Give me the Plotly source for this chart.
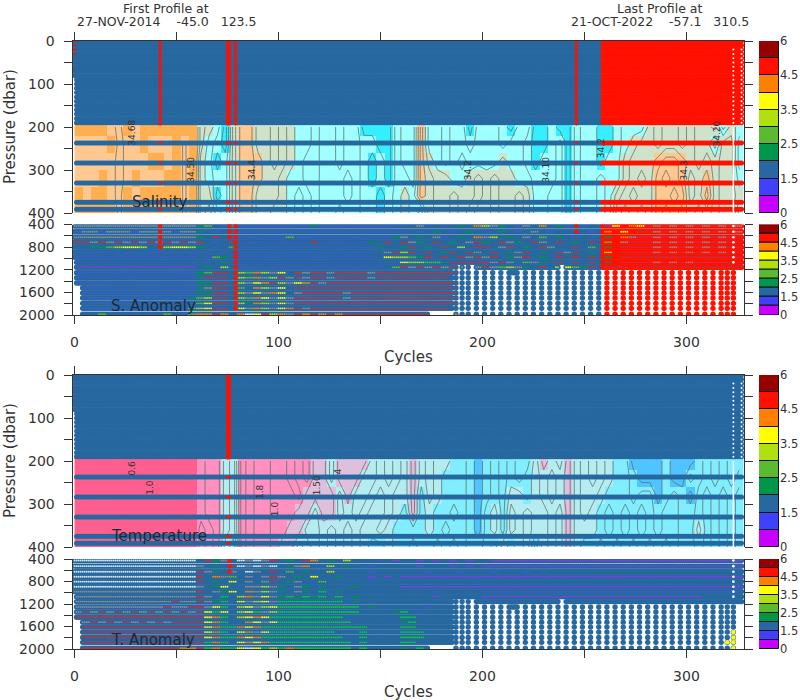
import plotly.graph_objects as go
from bisect import bisect_right

# ---------- data ----------
COLORBAR_LABELS = ["0", "1.5", "2.5", "3.5", "4.5", "6"]
UPPER_LEVELS = [0, 10, 20, 30, 40, 50, 60, 70, 80, 90, 100, 110, 120, 130, 140, 150, 160, 170, 180, 190]
RED_LEVELS = [0, 5, 10, 15, 20, 25, 30, 35, 40, 45, 50, 55, 60, 65, 70, 75, 80, 85, 90, 95, 100, 105, 110, 115, 120,
              125, 130, 135, 140, 145, 150, 155, 160, 165, 170, 175, 180, 185, 190, 193]
BAND_LEVELS = [237, 284, 330, 375, 391]
DEEP_LEVELS = [426, 527, 626, 715, 803, 892, 980, 1069, 1157, 1253, 1341, 1435, 1523, 1611, 1700, 1794, 1882, 1988]
GRID_PRESSURE = [200, 240, 280, 320, 360, 400]
LAST_CYCLE = 327
FLAG_CHANGE_CYCLE = 259

SAL_RED_CYCLES = [42, 75, 76, 79, 246]
TEMP_RED_CYCLES = [75, 76]
SAL_ANOM_RED = {42: 803, 76: 626, 79: 1960, 246: 527}
TEMP_ANOM_RED = {76: 626}

PROFILE_CYCLES = [187, 190, 193, 197, 201, 205, 209, 213, 217, 221, 225, 229, 233, 237, 241, 245, 249, 253, 257,
                  261, 265, 269, 273, 277, 281, 285, 289, 293, 297, 301, 305, 309, 313, 317, 320, 323]
GAP_LIMITS = [1069, 1069, 1069, 1157, 1157, 1157, 1157, 1253, 1157, 1157, 1157, 1157, 1157, 1069, 1157, 1157, 1157, 1157,
              1157, 1157, 1157, 1157, 1157, 1157, 1157, 1157, 1157, 1157, 1157, 1157, 1157, 1157, 1157, 1157, 1157, 1157]

# digits: one value per 4 cycles, one row per GRID_PRESSURE level
SAL_GRID = [
    "8988768788 89899 54315 7755454332 3323311113 2263323313 3321331121 1322112333 5455454452 43",
    "7777867787 77869 53215 7755454332 3323322113 2263323323 3323321123 1322112345 5455454425 52",
    "7777767778 87869 43125 7765454322 3323321213 2264323233 3343321223 1322122455 5677654545 52",
    "7778767877 78869 43225 7765543322 3332321213 3265443345 4544332223 1322322454 5767645645 53",
    "8788768788 89869 44125 7755543232 3332322123 4365445445 4544542233 1322324545 5776745745 54",
    "8888868888 88869 45325 7755443232 3323322123 4325445454 4544542233 1322325454 5767654545 52",
]
TEMP_GRID = [
    "9999999999 99999 87754 8788778786 6466664545 4645443321 2323224654 6454543311 1121112323 22",
    "9999999999 99999 87754 8788778786 6466644545 4645433321 2323234545 6454543321 1121132323 23",
    "9999999999 99999 87754 8788777866 6646445454 4635433321 2324434545 6455433323 3123213232 32",
    "9999999999 99999 87754 8788777664 6645454454 3634332321 3425454454 6454323232 3233223232 32",
    "9999999999 99999 78754 8788776644 5454544543 3334323321 3425454454 6444323232 3233224232 32",
    "9999999999 99999 78743 8788766454 5454543343 3233232322 3243452454 6433232323 2323223232 32",
]
SAL_LABELS = [(28, 214, "34.68"), (57, 300, "34.50"), (87, 300, "34.4"), (193, 300, "34.2"),
              (231, 300, "34.10"), (258, 250, "34.2"), (299, 300, "34.3"), (315, 215, "34.20")]
TEMP_LABELS = [(28, 216, "0.6"), (37, 260, "1.0"), (91, 272, "1.8"), (119, 256, "1.50"), (129, 225, "4"), (98, 311, "1.0")]

# characters: class per 4 cycles, one row per DEEP_LEVELS level ('.' = the row's base colour)
SAL_ANOM_ROWS = [
    "xxxxxxxxxx xxxxx 34.1x 1111111113 1111111111 1.x1.1.3.7 5x3.1x.7.3 1.1..16.76 8x8x8x8x8x 8x",
    "1xx1xxx1xx xx1xx 3.1.1 1111111111 1111111111 1.1.3.1.3. 1.3.1.x.1. .1.1.7.6.8 8x8x8x8x8x 8x",
    "xxxxxxxxxx xxxxx 3.8.1 1111114111 1111111113 x.3.x1.3.7 x5.3.x.4.3 .1.1.3.7x8 8x8x8x8x8x 88",
    "88x8x8x8x8 x8x8x 8.1.8 1111111118 1111113.8. 8x3.8.3.x8 3.8x3.8x.8 .3.8.4.x88 8x8x8x8x8x 88",
    "..3345665. .5665 3.1.4 1111111111 11111113.. 38.3.8.5.8 8.x8.3.8x. .8.4.3.888 8x8x8x8x8x 88",
    "1111111111 11111 11.1. 1111111111 1111111.x8 58.8.38.8x .8.3x8.3.8 x8.3.5.888 8x8x8x8x8x 88",
    "1111111111 11111 .143. 1111111111 1111111.65 5438.8.8x8 x8.3x8.3.8 .8.8.3.888 8888888888 88",
    "1111111111 11111 .1.3. 1111111111 1111111111 6554438888 8x8x.4x3.8 .8.8.3.888 8x8x8x8888 88",
    "0000000000 00000 .3.5. 1111111111 11111111.4 8x8x8x8x8x 8x45x3.8.5 6438.888.8 8888888888 88",
    "1111111111 11111 3488. 5475x6.8x8 8x8888x888 8888888",
    "1111111111 11111 3888. 547x58x8x8 8x8888x888 888888",
    "1111111111 11111 3388. 5x6785x678 x888888888 8888888",
    "1111111111 11111 3488. 4.75x6.888 8888888888 8888888",
    "1111111111 11111 3388. 5x6x76.x88 888x888888 8888888",
    "1111111111 11113 4588. 5476x6x888 888x888888 8888888",
    "1111111111 11111 4688. 5375x6x888 8888888888 8888888",
    "1111111111 11114 5688. 6475x678x8 8888888888 888888",
    "...4...1.1 .4.14 7787. 7w6857x878 7878888888 8888877",
]
TEMP_ANOM_ROWS = [
    "wwwwwwwwww wwwww .83x. wxwx8.3.87 .3.5...1.0 ..0.0.0.0. .0000000000 0000000000 0000000000 00",
    "wwwwwwwwww wwwww x.3.8 wxwxw.3x7. .5.3..1... ..0...0.0. 0000000000 0000000000 0000000000 00",
    "wwwwwwwwww wwwww 8x3.x .wx.8.4.3. .5....1... ...1...1.. .1...1.1..",
    "wwwwwwwwww wwwww 8.7x4 .x.x8x.3.6 ..3...0.0. 0000000000 0000000000 0000000000 0000000000 00",
    "wwwwwwwwww wwwww 8.3.6 .x.x8.3x.. 4.....1... .........1",
    "wwwwwwwwww wwwww x.36. .xx5x3.x3. 3...3..... 0000000000 0000000000 0000000000 0000000000 00",
    "xxxxxxxxxx xxxxx 8.x36 .7x5x3.x3. G.3....... ....1..... 1111111111 1111111111 1111111111 11",
    "xxxxxxxxxx xxxxx 8x.G. 57x6x3G3G3 G.G.3..... ....0..... 0000000000 0000000000 0000000... ..",
    "xxxxxxxxxx xx8xx 8x3G. 6x56xGGGGG GGG.3.....",
    "xxxxxxxxxx x8xx8 8x6G. 56x56GGGGG GGGGG.3... ...1......",
    "x8x8x8x8x8 x8x8x 86G6. 56Gx5GGGGG GGGGG....3 G.1.......",
    "8888888888 88888 867G. 5676GGGGGG GGG....... GG........",
    "8x8x8x8x8x 8x888 867G. .76x6GGGGG GGGG...... 3G........",
    "8888888888 88888 867GG 767GGGGGGG GGGGGG.... GG........",
    "8888888888 88888 867G. 67x6GGGGGG GG...G.... GGG.......",
    "8888888888 88888 867GG 767GGGGGGG GGG..G.... GGG.......",
    "8888888888 88888 8G7G. 6767GGGGGG GGGG.G.... GG........",
    "8888888888 88877 8G7GG 6w6G5G7GGG GGGG.G.... 3.G.10....",
]

# ---------- styling ----------
PALETTE = ["#c800ff", "#4040ff", "#26689f", "#00964b", "#5aba30", "#b0e010", "#ffff00", "#ff8000", "#ff1000", "#960000"]
STEEL, RED = PALETTE[2], PALETTE[8]
CLASS_COLORS = {str(i): c for i, c in enumerate(PALETTE)}
CLASS_COLORS.update({"0": "#7a40e0", "1": "#3f5ccf", "8": "#c83040", "x": "#8a8a90", "w": "#dbe6f2", "G": "#00d030"})
SAL_BANDS = [(1.5, "#35eeff"), (3.5, "#a0ffff"), (5.5, "#cfe3cb"), (7.5, "#ffc890"), (10, "#ffae50")]
TEMP_BANDS = [(1.5, "#50c4ff"), (3.5, "#80eeff"), (5.5, "#b5ecf0"), (6.5, "#e0bfdc"), (8.5, "#ff90bf"), (10, "#ff5f8f")]
TEXT = "#333333"
FONT = "DejaVu Sans"
W, H = 800, 700
LEFT, RIGHT = 72.7, 744
BAR_L, BAR_R = 759, 779
PANELS = [(41, 213), (224.5, 315), (375, 547), (559, 649)]
XR = [-0.88, 328.2]


def clean(rows):
    return [r.replace(" ", "").ljust(82, ".") for r in rows]


def depth_limit(c):
    if c == 0:
        return 1000
    if c <= 3:
        return 1500
    if c <= 173:
        return 2000
    if c <= 185:
        return 1882
    if c in PROFILE_CYCLES:
        return 2000
    if c > 323:
        return 1157
    return GAP_LIMITS[max(0, bisect_right(PROFILE_CYCLES, c) - 1)]


fig = go.Figure()


def dots(n, xs, ys, colors, size):
    fig.add_trace(go.Scatter(x=xs, y=ys, mode="markers", xaxis=f"x{n}", yaxis=f"y{n}", hoverinfo="skip",
                             showlegend=False, cliponaxis=True,
                             marker=dict(size=size, color=colors, symbol="circle", line=dict(width=0))))


def upper_panel(n, grid, bands, red_cycles, flag_change, labels, line_end):
    rows = clean(grid)
    z = [[int(ch) for ch in r] for r in rows]
    xc = [2 + 4 * i for i in range(len(z[0]))]
    scale, prev = [], 0
    for top, col in bands:
        scale += [[prev / 10, col], [top / 10, col]]
        prev = top
    fig.add_trace(go.Heatmap(x=xc, y=GRID_PRESSURE, z=z, zmin=0, zmax=10, colorscale=scale, showscale=False,
                             hoverinfo="skip", xaxis=f"x{n}", yaxis=f"y{n}"))
    fig.add_trace(go.Contour(x=xc, y=GRID_PRESSURE, z=z, showscale=False, hoverinfo="skip", xaxis=f"x{n}",
                             yaxis=f"y{n}", autocontour=False,
                             contours=dict(coloring="none", start=1.5, end=line_end, size=1),
                             line=dict(color="#60706a", width=0.8, smoothing=0)))
    xs, ys, cs = [], [], []
    for p in UPPER_LEVELS + BAND_LEVELS:
        for c in range(LAST_CYCLE + 1):
            if c == 0 and (p > 80 or p in BAND_LEVELS):
                continue
            xs.append(c)
            ys.append(p)
            cs.append(RED if flag_change is not None and c >= flag_change else STEEL)
    dots(n, xs, ys, cs, 5)
    rx, ry = [], []
    for c in red_cycles:
        for p in RED_LEVELS + BAND_LEVELS:
            rx.append(c)
            ry.append(p)
    dots(n, rx, ry, RED, 3)
    if flag_change is not None:
        dots(n, [0, 0, 0, 0], [0, 10, 20, 30], RED, 2.5)
    wx, wy = [], []
    for c in (323, 327):
        for p in UPPER_LEVELS[2:]:
            wx.append(c)
            wy.append(p)
    dots(n, wx, wy, "white", 2)
    fig.add_trace(go.Scatter(x=[323, 323], y=[200, 400], mode="lines", line=dict(color="white", width=1.5),
                             xaxis=f"x{n}", yaxis=f"y{n}", hoverinfo="skip", showlegend=False))
    for c, p, t in labels:
        fig.add_annotation(x=c, y=p, xref=f"x{n}", yref=f"y{n}", text=t, showarrow=False, textangle=-90,
                           xanchor="center", yanchor="middle", font=dict(family=FONT, size=9, color="#333"))


def lower_panel(n, rows, red_tops, flag_change):
    rows = clean(rows)
    xs, ys, cs = [], [], []
    ox, oy, oc = [], [], []
    for ri, p in enumerate(DEEP_LEVELS):
        for c in range(LAST_CYCLE + 1):
            if p > depth_limit(c):
                continue
            xs.append(c)
            ys.append(p)
            cs.append(RED if flag_change is not None and c >= flag_change else STEEL)
            ch = rows[ri][min(c // 4, 81)]
            if ch != ".":
                ox.append(c)
                oy.append(p)
                oc.append(CLASS_COLORS[ch])
    dots(n, xs, ys, cs, 5.4)
    dots(n, ox, oy, oc, 1.9)
    rx, ry = [], []
    for c, top in red_tops.items():
        for p in DEEP_LEVELS:
            if p <= top:
                rx.append(c)
                ry.append(p)
    dots(n, rx, ry, RED, 4.4)
    wx = [323 for p in DEEP_LEVELS if p < 1150]
    wy = [p for p in DEEP_LEVELS if p < 1150]
    dots(n, wx, wy, "white", 2.6)


def colorbar(n):
    fig.add_trace(go.Bar(x=[0] * 10, y=[1] * 10, base=list(range(10)), width=1, xaxis=f"x{n}", yaxis=f"y{n}",
                         marker=dict(color=PALETTE, line=dict(color="#111", width=1)), hoverinfo="skip",
                         showlegend=False))


upper_panel(1, SAL_GRID, SAL_BANDS, SAL_RED_CYCLES, FLAG_CHANGE_CYCLE, SAL_LABELS, 6.5)
lower_panel(2, SAL_ANOM_ROWS, SAL_ANOM_RED, FLAG_CHANGE_CYCLE)
upper_panel(3, TEMP_GRID, TEMP_BANDS, TEMP_RED_CYCLES, None, TEMP_LABELS, 7.5)
lower_panel(4, TEMP_ANOM_ROWS, TEMP_ANOM_RED, None)
# last profile's flagged deep samples in the temperature anomaly panel
dots(4, [323, 323, 323, 323, 320], [1700, 1794, 1882, 1988, 1882], PALETTE[6], 4.5)
for n in range(5, 9):
    colorbar(n)

layout = dict(template="none", width=W, height=H, margin=dict(l=0, r=0, t=0, b=0), paper_bgcolor="white",
              plot_bgcolor="white", barmode="overlay", bargap=0, showlegend=False, font=dict(family=FONT, color=TEXT))
x_ticks = list(range(0, 301, 50))
x_text = [str(v) if v % 100 == 0 else "" for v in x_ticks]
axis_col = "#333333"
for i, (top, bot) in enumerate(PANELS, start=1):
    dom_y = [1 - bot / H, 1 - top / H]
    upper = i in (1, 3)
    layout[f"xaxis{i}"] = dict(domain=[LEFT / W, RIGHT / W], range=XR, anchor=f"y{i}", side="top" if upper else "bottom",
                               automargin=False, showline=True, linecolor=axis_col, linewidth=1.3, ticks="outside",
                               ticklen=8, tickwidth=1.2, tickcolor=axis_col, tickvals=x_ticks, ticktext=x_text,
                               showticklabels=not upper, showgrid=False, zeroline=False, ticklabelstandoff=6,
                               tickfont=dict(size=14, family=FONT, color=TEXT), layer="above traces")
    if upper:
        y_vals, yr = list(range(0, 401, 50)), [400, 0]
        y_text = [str(v) if v % 100 == 0 else "" for v in y_vals]
    else:
        y_vals, yr = list(range(400, 2001, 200)), [2000, 400]
        y_text = [str(v) if v % 400 == 0 else "" for v in y_vals]
    layout[f"yaxis{i}"] = dict(domain=dom_y, range=yr, anchor=f"x{i}", automargin=False, showline=True, linecolor=axis_col,
                               linewidth=1.3, mirror="ticks", ticks="outside", ticklen=8, tickwidth=1.2, tickcolor=axis_col,
                               tickvals=y_vals, ticktext=y_text, showgrid=False, zeroline=False, ticklabelstandoff=6,
                               tickfont=dict(size=14, family=FONT, color=TEXT), layer="above traces")
    b = i + 4
    layout[f"xaxis{b}"] = dict(domain=[BAR_L / W, BAR_R / W], range=[-0.5, 0.5], anchor=f"y{b}", visible=False)
    layout[f"yaxis{b}"] = dict(domain=dom_y, range=[0, 10], anchor=f"x{b}", side="right", tickvals=[0, 2, 4, 6, 8, 10],
                               ticktext=COLORBAR_LABELS, automargin=False, showgrid=False, zeroline=False, showline=False,
                               ticks="", tickfont=dict(size=11.5, family=FONT, color=TEXT))
fig.update_layout(**layout)


def note(px, py, text, size, color=TEXT, angle=0):
    fig.add_annotation(x=px / W, y=1 - py / H, xref="paper", yref="paper", text=text, showarrow=False, textangle=angle,
                       xanchor="center", yanchor="middle", font=dict(family=FONT, size=size, color=color))


NB = "\u00a0"
note(166, 8, "First Profile at", 12.5)
note(166, 21, f"27-NOV-2014{NB*4}-45.0{NB*3}123.5", 12.5)
note(660, 8, "Last Profile at", 12.5)
note(660, 21, f"21-OCT-2022{NB*4}-57.1{NB*3}310.5", 12.5)
note(10, 127, "Pressure (dbar)", 15, TEXT, -90)
note(10, 461, "Pressure (dbar)", 15, TEXT, -90)
note(160, 202, "Salinity", 15, "#1c2a38")
note(153, 306, "S. Anomaly", 15, "#1c2a38")
note(159, 536, "Temperature", 15, "#1c2a38")
note(153, 640, "T. Anomaly", 15, "#1c2a38")
note(408, 357, "Cycles", 15)
note(408, 692, "Cycles", 15)

fig.write_html("out.html", config=dict(displayModeBar=False),
               post_script="document.body.style.margin='0';document.documentElement.style.overflow='hidden';")
